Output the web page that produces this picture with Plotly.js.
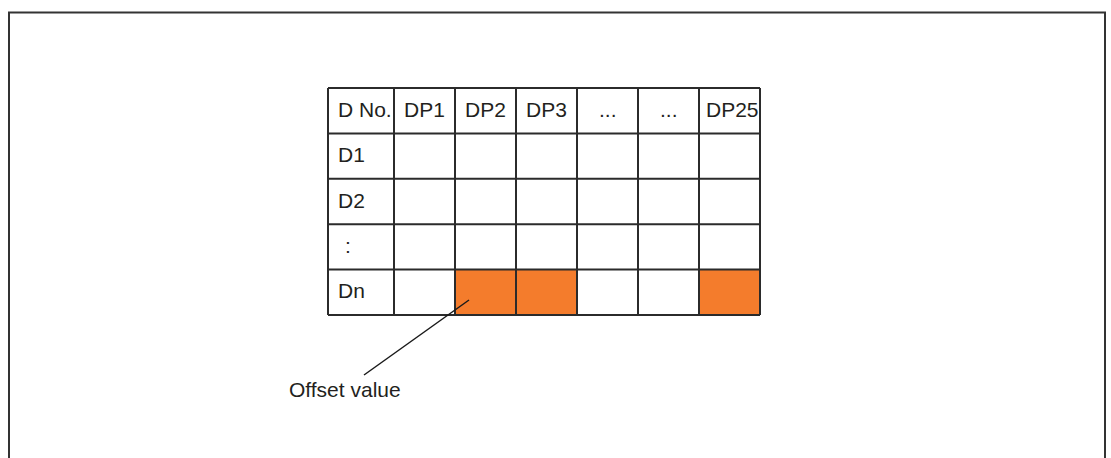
<!DOCTYPE html>
<html><head><meta charset="utf-8">
<script src="https://cdn.plot.ly/plotly-3.0.1.min.js"></script>
<style>html,body{margin:0;padding:0;background:#fff;overflow:hidden}#chart{width:1111px;height:458px;}</style>
</head><body><div id="chart"></div>
<script>
// ---- data ----
const columnHeaders = ["D No.", "DP1", "DP2", "DP3", "...", "...", "DP25"];
const rowLabels = ["D1", "D2", ":", "Dn"];
const offsetRow = "Dn";
const offsetColumns = ["DP2", "DP3", "DP25"];
const calloutLabel = "Offset value";

// ---- layout geometry (pixels) ----
const W = 1111, H = 458;
const tableLeft = 328, tableTop = 88, firstColW = 66, colW = 61, rowH = 45.4;
const lineColor = "#2b2b2b", textColor = "#231f20", fillColor = "#f47c2c";
const fontSpec = {family: "Liberation Sans, Arial, sans-serif", size: 21, color: textColor};

const nCols = columnHeaders.length, nRows = rowLabels.length + 1;
const xEdges = [tableLeft];
for (let c = 0; c < nCols; c++) xEdges.push(xEdges[c] + (c === 0 ? firstColW : colW));
const yEdges = [];
for (let r = 0; r <= nRows; r++) yEdges.push(tableTop + r * rowH);

// cell fill matrix (header row + data rows)
const z = [];
for (let r = 0; r < nRows; r++) {
  const row = [];
  for (let c = 0; c < nCols; c++) {
    const isOffset = r > 0 && rowLabels[r - 1] === offsetRow && offsetColumns.includes(columnHeaders[c]);
    row.push(isOffset ? 1 : 0);
  }
  z.push(row);
}

const traces = [{
  type: "heatmap", x: xEdges, y: yEdges, z: z,
  colorscale: [[0, "#ffffff"], [1, fillColor]], zmin: 0, zmax: 1,
  showscale: false, hoverinfo: "skip"
}];

const shapes = [];
// grid lines
for (const xe of xEdges) shapes.push({type: "line", xref: "x", yref: "y", x0: xe, x1: xe, y0: yEdges[0], y1: yEdges[nRows], line: {color: lineColor, width: 2}});
for (const ye of yEdges) shapes.push({type: "line", xref: "x", yref: "y", x0: xEdges[0], x1: xEdges[nCols], y0: ye, y1: ye, line: {color: lineColor, width: 2}});
// outer frame (open at bottom)
shapes.push({type: "path", xref: "x", yref: "y", path: "M 9 470 L 9 12.5 L 1105 12.5 L 1105 470", line: {color: "#333333", width: 2}});
// callout leader line
shapes.push({type: "line", xref: "x", yref: "y", x0: 469, y0: 300, x1: 364, y1: 375, line: {color: "#1a1a1a", width: 1.5}});

const annotations = [];
columnHeaders.forEach((h, c) => {
  const centered = h === "...";
  annotations.push({
    x: centered ? (xEdges[c] + xEdges[c + 1]) / 2 : xEdges[c] + (c === nCols - 1 ? 5 : 8),
    y: (yEdges[0] + yEdges[1]) / 2 - 1.5,
    xref: "x", yref: "y", text: h, showarrow: false,
    xanchor: centered ? "center" : "left", yanchor: "middle", font: fontSpec
  });
});
rowLabels.forEach((lab, r) => {
  annotations.push({
    x: xEdges[0] + (lab === ":" ? 15 : 8),
    y: (yEdges[r + 1] + yEdges[r + 2]) / 2 - 1.5,
    xref: "x", yref: "y", text: lab, showarrow: false,
    xanchor: "left", yanchor: "middle", font: fontSpec
  });
});
annotations.push({x: 287, y: 389, xref: "x", yref: "y", text: calloutLabel, showarrow: false, xanchor: "left", yanchor: "middle", font: fontSpec});

const layout = {
  width: W, height: H, autosize: false,
  margin: {l: 0, r: 0, t: 0, b: 0, pad: 0},
  paper_bgcolor: "#ffffff", plot_bgcolor: "#ffffff",
  xaxis: {range: [0, W], visible: false, fixedrange: true},
  yaxis: {range: [H, 0], visible: false, fixedrange: true},
  shapes: shapes, annotations: annotations, showlegend: false
};
Plotly.newPlot("chart", traces, layout, {staticPlot: true, displayModeBar: false});
</script></body></html>
